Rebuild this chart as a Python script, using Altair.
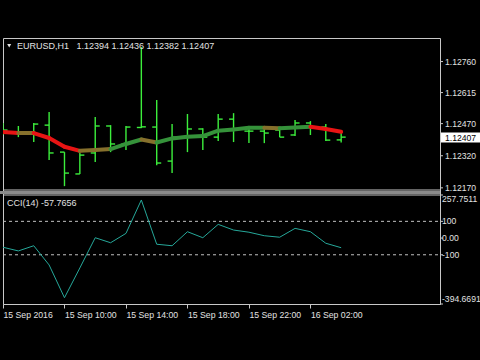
import altair as alt
import pandas as pd

# ---- data (EURUSD H1, 15 Sep 2016 06:00 .. 16 Sep 04:00) ----
bar_hours = ["15 Sep 06:00", "15 Sep 07:00", "15 Sep 08:00", "15 Sep 09:00", "15 Sep 10:00",
             "15 Sep 11:00", "15 Sep 12:00", "15 Sep 13:00", "15 Sep 14:00", "15 Sep 15:00",
             "15 Sep 16:00", "15 Sep 17:00", "15 Sep 18:00", "15 Sep 19:00", "15 Sep 20:00",
             "15 Sep 21:00", "15 Sep 22:00", "15 Sep 23:00", "16 Sep 00:00", "16 Sep 01:00",
             "16 Sep 02:00", "16 Sep 03:00", "16 Sep 04:00"]
open_ = [1.12435, 1.12431, 1.12426, 1.12463, 1.12337, 1.12235, 1.12333, 1.12459, 1.12375, 1.12452,
         1.12454, 1.12295, 1.12407, 1.12445, 1.12407, 1.12491, 1.12435, 1.12435, 1.12440, 1.12417,
         1.12473, 1.12454, 1.12394]
high = [1.12473, 1.12459, 1.12473, 1.12524, 1.12337, 1.12333, 1.12501, 1.12463, 1.12459, 1.12828,
        1.12580, 1.12468, 1.12515, 1.12449, 1.12515, 1.12519, 1.12454, 1.12445, 1.12449, 1.12487,
        1.12482, 1.12468, 1.12436]
low = [1.12417, 1.12407, 1.12384, 1.12300, 1.12178, 1.12235, 1.12291, 1.12337, 1.12347, 1.12449,
       1.12276, 1.12239, 1.12337, 1.12347, 1.12389, 1.12384, 1.12379, 1.12379, 1.12407, 1.12412,
       1.12417, 1.12389, 1.12382]
close = [1.12440, 1.12421, 1.12468, 1.12333, 1.12239, 1.12323, 1.12459, 1.12375, 1.12454, 1.12455,
         1.12286, 1.12407, 1.12445, 1.12407, 1.12491, 1.12440, 1.12435, 1.12426, 1.12407, 1.12473,
         1.12454, 1.12393, 1.12407]
ma = [1.12431, 1.12426, 1.12426, 1.12403, 1.12362, 1.12343, 1.12347, 1.12351, 1.12375, 1.12396,
      1.12382, 1.12401, 1.12409, 1.12412, 1.12437, 1.12443, 1.12451, 1.12451, 1.12449, 1.12452,
      1.12455, 1.12445, 1.12432]
ma_trend = ["down", "flat", "down", "down", "down", "flat", "flat", "up", "up", "flat", "up",
            "up", "up", "up", "up", "up", "up", "flat", "up", "up", "down", "down"]
cci = [-55, -77, -46, -161, -357, -179, 2, -28, 28, 228, -37, -46, 38, 2, 82, 48, 35, 14, 5, 58,
       38, -31, -57.7656]
cci_levels = [100, -100]

time_tick_pos = [0, 4, 8, 12, 16, 20]
time_tick_labels = ["15 Sep 2016", "15 Sep 10:00", "15 Sep 14:00", "15 Sep 18:00",
                    "15 Sep 22:00", "16 Sep 02:00"]
price_ticks = [1.12760, 1.12615, 1.12470, 1.12320, 1.12170]
cci_ticks = [257.7511, 100, 0, -100, -394.6691]
cci_tick_labels = ["257.7511", "100", "0.00", "-100", "-394.6691"]
cci_tick_place = ["top", "middle", "middle", "middle", "bottom"]

price_domain = [1.12160, 1.12870]
cci_domain = [-394.6691, 257.7511]
x_domain = [0, 28.43]

# ---- layout / styling ----
FONT = "Liberation Sans"
TXT = "#E2E2E2"
FRAME = "#C8C8C8"
BAR = "#3CEE3C"
MA_COLORS = ["#E81414", "#86702C", "#35923A"]
LBL = 8.6

W = 437          # plot width (page x 3 .. 440)
H = 266          # plot height (page y 38 .. 304)
TOP_H = 152      # price panel: 0 .. 152
BOT_Y0 = 157     # CCI panel: 157 .. 266

n = len(bar_hours)
bars = pd.DataFrame({"i": list(range(n)), "time": bar_hours, "open": open_,
                     "high": high, "low": low, "close": close})
segs = pd.DataFrame({"i": list(range(n - 1)), "i2": list(range(1, n)),
                     "ma": ma[:-1], "ma2": ma[1:], "trend": ma_trend})
cci_df = pd.DataFrame({"i": list(range(n)), "cci": cci})
lev_df = pd.DataFrame({"level": cci_levels})
pt_df = pd.DataFrame({"v": price_ticks, "label": [f"{p:.5f}" for p in price_ticks]})
ct_df = pd.DataFrame({"v": cci_ticks, "label": cci_tick_labels, "place": cci_tick_place})
one = pd.DataFrame({"k": [0]})
last_df = pd.DataFrame({"price": [close[-1]], "label": [f"{close[-1]:.5f}"]})

xs = alt.Scale(domain=x_domain, nice=False, zero=False)
ps = alt.Scale(domain=price_domain, range=[TOP_H, 0], nice=False, zero=False)
cs = alt.Scale(domain=cci_domain, range=[H, BOT_Y0], nice=False, zero=False)

xexpr = " : ".join(f"datum.value == {p} ? '{l}'" for p, l in zip(time_tick_pos, time_tick_labels)) + " : ''"
x_axis = alt.Axis(values=time_tick_pos, labelExpr=xexpr, labelAlign="left", labelBaseline="top",
                  tickSize=4, labelPadding=2, tickColor=FRAME, domainColor=FRAME, labelColor=TXT,
                  labelFont=FONT, labelFontSize=8.7, grid=False, title=None, labelOverlap=False,
                  labelFlush=False, labelBound=False)
X = alt.X("i:Q", scale=xs, axis=x_axis)

# panel separator and borders
sep = alt.Chart(one).mark_rule(color="#8A8A8A", strokeWidth=3).encode(
    x=alt.value(-3), x2=alt.value(W), y=alt.value(TOP_H + 2.5))
sep_b1 = alt.Chart(one).mark_rule(color=FRAME, strokeWidth=1).encode(
    x=alt.value(0), x2=alt.value(W), y=alt.value(TOP_H))
sep_b2 = alt.Chart(one).mark_rule(color=FRAME, strokeWidth=1).encode(
    x=alt.value(0), x2=alt.value(W), y=alt.value(BOT_Y0))

# price panel
wicks = alt.Chart(bars).mark_rule(color=BAR, strokeWidth=1.4, clip=True).encode(
    x=X, y=alt.Y("low:Q", scale=ps, axis=None), y2="high:Q")
opens = alt.Chart(bars).mark_rule(color=BAR, strokeWidth=1.4, clip=True, x2Offset=-4.5).encode(
    x=X, x2="i:Q", y=alt.Y("open:Q", scale=ps, axis=None))
closes = alt.Chart(bars).mark_rule(color=BAR, strokeWidth=1.4, clip=True, x2Offset=4.5).encode(
    x=X, x2="i:Q", y=alt.Y("close:Q", scale=ps, axis=None))
ma_line = alt.Chart(segs).mark_rule(strokeWidth=4, strokeCap="round", clip=True).encode(
    x=X, x2="i2:Q", y=alt.Y("ma:Q", scale=ps, axis=None), y2="ma2:Q",
    color=alt.Color("trend:N", scale=alt.Scale(domain=["down", "flat", "up"], range=MA_COLORS),
                    legend=None))

p_ticks = alt.Chart(pt_df).mark_rule(color=FRAME, strokeWidth=1).encode(
    x=alt.value(W), x2=alt.value(W + 3), y=alt.Y("v:Q", scale=ps, axis=None))
p_labels = alt.Chart(pt_df).mark_text(align="left", baseline="middle", font=FONT, fontSize=LBL,
                                      color=TXT).encode(
    x=alt.value(W + 5), y=alt.Y("v:Q", scale=ps, axis=None), text="label:N")

header = f"EURUSD,H1\u00a0\u00a0\u00a0{open_[-1]:.5f} {high[-1]:.5f} {low[-1]:.5f} {close[-1]:.5f}"
head_txt = alt.Chart(one).mark_text(text=header, align="left", baseline="middle", font=FONT,
                                    fontSize=9, color=TXT).encode(
    x=alt.value(14), y=alt.value(8))
tri = alt.Chart(one).mark_point(shape="triangle-down", filled=True, size=16, color=TXT,
                                opacity=1).encode(x=alt.value(6.2), y=alt.value(7.7))

box = alt.Chart(last_df).mark_rect(color="white", yOffset=-4.5, y2Offset=5.5).encode(
    x=alt.value(W + 1), x2=alt.value(W + 43), y=alt.Y("price:Q", scale=ps, axis=None),
    y2="price:Q")
box_txt = alt.Chart(last_df).mark_text(align="left", baseline="middle", font=FONT, fontSize=LBL,
                                       color="black", dy=1).encode(
    x=alt.value(W + 5), y=alt.Y("price:Q", scale=ps, axis=None), text="label:N")

# CCI panel
levels = alt.Chart(lev_df).mark_rule(color="#C0C0C0", strokeDash=[3, 3], strokeWidth=1).encode(
    x=alt.value(0), x2=alt.value(W), y=alt.Y("level:Q", scale=cs, axis=None))
cci_line = alt.Chart(cci_df).mark_line(color="#26A89A", strokeWidth=1, clip=True).encode(
    x=X, y=alt.Y("cci:Q", scale=cs, axis=None))
cci_txt = alt.Chart(one).mark_text(text=f"CCI(14) {cci[-1]:.4f}", align="left",
                                   baseline="middle", font=FONT, fontSize=9, color=TXT).encode(
    x=alt.value(4), y=alt.value(BOT_Y0 + 7.5))
c_ticks = alt.Chart(ct_df).mark_rule(color=FRAME, strokeWidth=1).encode(
    x=alt.value(W), x2=alt.value(W + 3), y=alt.Y("v:Q", scale=cs, axis=None))


def cci_label_layer(place):
    return alt.Chart(ct_df).transform_filter(alt.datum.place == place).mark_text(
        align="left", baseline=place, font=FONT, fontSize=LBL, color=TXT).encode(
        x=alt.value(W + 2), y=alt.Y("v:Q", scale=cs, axis=None), text="label:N")


c_labels = [cci_label_layer(p) for p in ["top", "middle", "bottom"]]

chart = alt.layer(
    sep, sep_b1, sep_b2,
    levels, cci_line, cci_txt, c_ticks, *c_labels,
    wicks, opens, closes, ma_line,
    p_ticks, p_labels, head_txt, tri, box, box_txt,
).resolve_scale(y="independent").properties(
    width=W, height=H,
    autosize=alt.AutoSizeParams(type="none"),
    padding={"left": 3, "top": 38, "right": 480 - 3 - W, "bottom": 360 - 38 - H},
    background="black",
).configure_view(stroke=FRAME, strokeWidth=1)

chart.save("out.html", embed_options={"renderer": "svg", "actions": False})
